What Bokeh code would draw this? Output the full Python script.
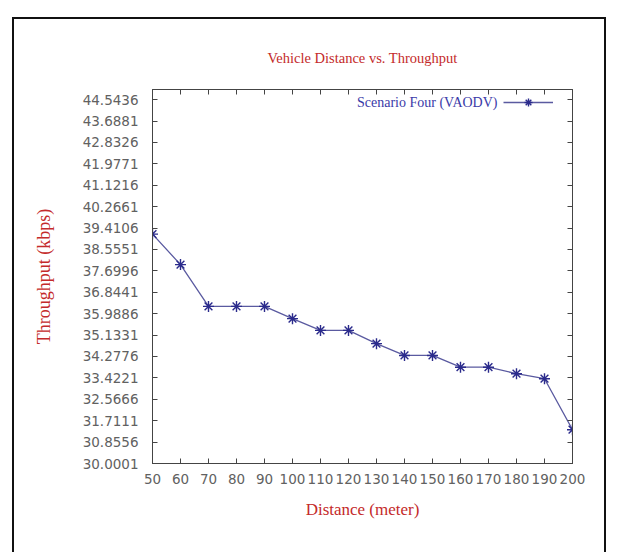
from bokeh.plotting import figure
from bokeh.models import (FixedTicker, LinearAxis, Range1d, Legend, LegendItem, Label,
                          PrintfTickFormatter, CustomLabelingPolicy)
from bokeh.embed import file_html
from bokeh.resources import INLINE

# ---- data ----
distance = [50, 60, 70, 80, 90, 100, 110, 120, 130, 140, 150, 160, 170, 180, 190, 200]
throughput = [39.17, 37.95, 36.28, 36.28, 36.28, 35.79, 35.32, 35.32, 34.79,
              34.32, 34.32, 33.85, 33.85, 33.59, 33.39, 31.35]
y_ticks = [30.0001, 30.8556, 31.7111, 32.5666, 33.4221, 34.2776, 35.1331, 35.9886,
           36.8441, 37.6996, 38.5551, 39.4106, 40.2661, 41.1216, 41.9771, 42.8326,
           43.6881, 44.5436]
y_max = 44.95
x_ticks = distance
series_name = "Scenario Four (VAODV)"
title_text = "Vehicle Distance vs. Throughput"
x_label = "Distance (meter)"
y_label = "Throughput (kbps)"

# ---- style ----
RED = "#c42a2a"
BLUE_TXT = "#3a3aa8"
LINE_C = "#5a5aa0"
MARK_C = "#2b2b8c"
TICK_FONT = "DejaVu Sans"
TICK_COL = "#616161"
SERIF = "Liberation Serif"

W, H = 616, 552
p = figure(width=W, height=H, output_backend="svg", toolbar_location=None,
           x_range=Range1d(x_ticks[0], x_ticks[-1]),
           y_range=Range1d(y_ticks[0], y_max),
           min_border_left=152, min_border_right=W - 572,
           min_border_top=89, min_border_bottom=H - 463,
           title=title_text, x_axis_label=x_label, y_axis_label=y_label)
p.background_fill_color = "white"
p.border_fill_color = None
p.outline_line_color = "#444444"
p.outline_line_width = 1
p.xgrid.visible = False
p.ygrid.visible = False
# outer black frame of the picture (drawn behind the transparent canvas border)
p.styles = {
    "background": (
        "linear-gradient(#111,#111) 12px 17px / 2px 600px no-repeat,"
        "linear-gradient(#111,#111) 12px 17px / 594px 2px no-repeat,"
        "linear-gradient(#111,#111) 604px 17px / 2px 600px no-repeat,"
        "white"
    )
}

p.title.text_font = SERIF
p.title.text_font_size = "14.5px"
p.title.text_font_style = "normal"
p.title.text_color = RED
p.title.align = "center"
p.title.standoff = 39

hide_labels = CustomLabelingPolicy(
    code="const n = indices.size; for (let i = 0; i < n; i++) { indices.unset(i) } return indices")


def style_axis(ax, ticks, show_labels):
    ax.ticker = FixedTicker(ticks=ticks)
    ax.major_tick_in = 5
    ax.major_tick_out = 0
    ax.minor_tick_line_color = None
    ax.axis_line_color = "#444444"
    ax.major_tick_line_color = "#444444"
    if show_labels:
        ax.major_label_text_font = TICK_FONT
        ax.major_label_text_font_size = "13.5px"
        ax.major_label_text_color = TICK_COL
    else:
        ax.major_label_text_font_size = "1px"
        ax.major_label_standoff = 0
        ax.major_label_policy = hide_labels


xa = p.xaxis[0]
ya = p.yaxis[0]
style_axis(xa, x_ticks, True)
style_axis(ya, y_ticks, True)
ya.formatter = PrintfTickFormatter(format="%.4f")
ya.major_label_standoff = 14
xa.major_label_standoff = 10
for ax in (xa, ya):
    ax.axis_label_text_font = SERIF
    ax.axis_label_text_font_size = "17px"
    ax.axis_label_text_font_style = "normal"
    ax.axis_label_text_color = RED
ya.axis_label_text_font_size = "18px"
ya.axis_label_standoff = 26
xa.axis_label_standoff = 13

top_ax = LinearAxis()
style_axis(top_ax, x_ticks, False)
p.add_layout(top_ax, "above")
right_ax = LinearAxis()
style_axis(right_ax, y_ticks, False)
p.add_layout(right_ax, "right")

line_r = p.line(distance, throughput, line_color=LINE_C, line_width=1.3)
mark_r = p.scatter(distance, throughput, marker="asterisk", size=11,
                   line_color=MARK_C, line_width=1.4)

# gnuplot-style key: sample on the right, text on the left
legend = Legend(items=[LegendItem(label="", renderers=[line_r, mark_r])],
                location=(351, 351), glyph_width=50, glyph_height=20,
                label_width=0, label_standoff=0, padding=0, margin=0,
                border_line_color=None, background_fill_alpha=0)
p.add_layout(legend, "center")
p.add_layout(Label(x=497, y=102, x_units="canvas", y_units="canvas", text=series_name,
                   text_align="right", text_baseline="middle", text_font=SERIF,
                   text_font_size="14px", text_color=BLUE_TXT))

open("out.html", "w").write(file_html(p, INLINE))
